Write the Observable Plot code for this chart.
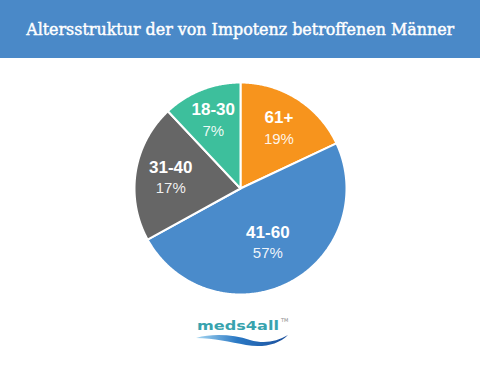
<!DOCTYPE html>
<html>
<head>
<meta charset="utf-8">
<script src="https://cdn.jsdelivr.net/npm/d3@7"></script>
<script src="https://cdn.jsdelivr.net/npm/@observablehq/plot@0.6"></script>
<style>
  html, body { margin: 0; padding: 0; background: #fff; }
  #page { position: relative; width: 480px; height: 370px; overflow: hidden; background: #fff; }
  #title { position: absolute; left: 0; top: 0; width: 480px; height: 58px; background: #4a89c8;
           display: flex; align-items: center; justify-content: center; }
  #title span { color: #fff; font-family: "DejaVu Serif", serif; font-size: 16.5px; white-space: nowrap;
                -webkit-text-stroke: 0.45px #fff;
                display: inline-block; transform-origin: center center; }
  #chart { position: absolute; left: 0; top: 58px; }
  #logo { position: absolute; left: 0; top: 312px; width: 480px; height: 40px; }
  #logoText { position: absolute; left: 240px; top: 6px; color: #38a3ae; font-family: "DejaVu Sans", sans-serif;
              font-weight: bold; font-size: 13px; white-space: nowrap; transform-origin: center top; }
  #tm { position: absolute; left: 281px; top: 5px; color: #888; font-family: "DejaVu Sans", sans-serif; font-size: 5px; }
  #wave { position: absolute; left: 196px; top: 21px; }
</style>
</head>
<body>
<div id="page">
  <div id="title"><span id="titleText">Altersstruktur der von Impotenz betroffenen Männer</span></div>
  <div id="chart"></div>
  <div id="logo">
    <div id="logoText">meds4all</div>
    <div id="tm">TM</div>
    <svg id="wave" width="92" height="14" viewBox="0 0 92 14">
      <defs>
        <linearGradient id="wg" x1="0" x2="1" y1="0" y2="0">
          <stop offset="0" stop-color="#a8d8f2"/>
          <stop offset="0.45" stop-color="#2a78c4"/>
          <stop offset="1" stop-color="#1b4f9c"/>
        </linearGradient>
      </defs>
      <path d="M0,5 C18,0 38,2 54,7 C68,11 80,9 92,2 C82,12 66,15 50,12 C34,9 18,5 0,5 Z" fill="url(#wg)"/>
    </svg>
  </div>
</div>
<script>
// ---- data ----
const categories = ["61+", "41-60", "31-40", "18-30"];
const percentLabels = ["19%", "57%", "17%", "7%"];
// slice sizes as drawn in the picture (share of the full circle, in %)
const sliceShares = [18, 49, 21, 12];
const colors = ["#f7941d", "#4a8bcb", "#666666", "#3dbf9c"];

// ---- layout ----
const W = 480, H = 252;
const R = 106;            // pie radius in px
const cx = 240, cy = 130; // centre inside the svg

const rows = categories.map((c, i) => ({category: c, share: sliceShares[i], pct: percentLabels[i]}));
const arcs = d3.pie().sort(null).value(d => d.share).startAngle(0).endAngle(2 * Math.PI)(rows);

// polygon outline of each slice in unit-radius coordinates (y grows downward)
const outline = [];
for (const a of arcs) {
  outline.push({category: a.data.category, x: 0, y: 0});
  const n = Math.max(2, Math.ceil((a.endAngle - a.startAngle) / (Math.PI / 360)));
  for (let k = 0; k <= n; k++) {
    const t = a.startAngle + (a.endAngle - a.startAngle) * k / n;
    outline.push({category: a.data.category, x: Math.sin(t), y: -Math.cos(t)});
  }
}

// label anchor points
const labels = arcs.map(a => {
  const mid = (a.startAngle + a.endAngle) / 2;
  const share = a.data.share / 100;
  const lr = 0.74 - 0.35 * share;
  return {category: a.data.category, pct: a.data.pct, x: lr * Math.sin(mid), y: -lr * Math.cos(mid)};
});

const chart = Plot.plot({
  width: W, height: H,
  margin: 0,
  style: {background: "transparent", overflow: "visible"},
  x: {domain: [-cx / R, (W - cx) / R], axis: null},
  y: {domain: [-cy / R, (H - cy) / R], reverse: true, axis: null},
  color: {domain: categories, range: colors},
  marks: [
    Plot.line(outline, {x: "x", y: "y", z: "category", fill: "category", stroke: "#fff",
                        strokeWidth: 2, curve: "linear-closed", strokeLinejoin: "round"}),
    Plot.text(labels, {x: "x", y: "y", text: "category", dy: -10, fill: "#fff",
                       fontFamily: "Liberation Sans, Arial, sans-serif", fontWeight: "bold", fontSize: 17}),
    Plot.text(labels, {x: "x", y: "y", text: "pct", dy: 11, fill: "#fff", fillOpacity: 0.92,
                       fontFamily: "Liberation Sans, Arial, sans-serif", fontSize: 15})
  ]
});
document.getElementById("chart").appendChild(chart);

// fit title text to the reference width (~428px)
const tt = document.getElementById("titleText");
const tw = tt.getBoundingClientRect().width;
tt.style.transform = `scaleX(${428 / tw})`;

// logo text width ~82px, centred near x=238
const lt = document.getElementById("logoText");
const lw = lt.getBoundingClientRect().width;
const s = 82 / lw;
lt.style.transform = `translateX(-50%) scaleX(${s})`;
lt.style.left = "238px";
</script>
</body>
</html>
